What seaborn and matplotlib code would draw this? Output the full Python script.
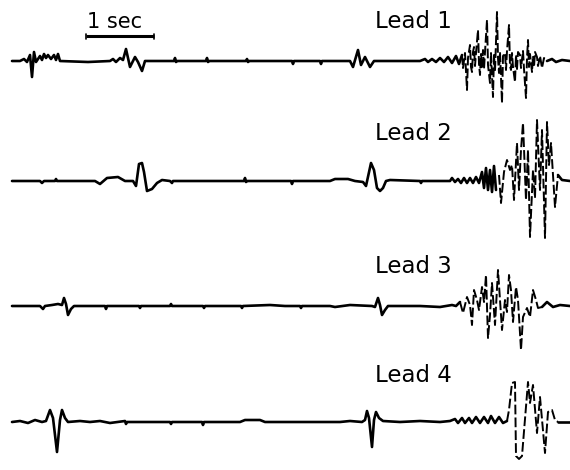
import numpy as np
import pandas as pd
import matplotlib
matplotlib.use("Agg")
import matplotlib.pyplot as plt
import seaborn as sns

# Recording sample rate (Hz); samples below are indices into each lead.
FS = 68

# (sample, amplitude) pairs for each lead
LEAD1 = [
    (0, 0), (8, 0), (12, 0.2), (15, -0.1), (18, 0.6), (20, -1.6), (22, 0.9), (24, -0.1),
    (28, 0.5), (30, 0.1), (32, 0.7), (34, 0.3), (36, 0.6), (39, 0.2), (42, 0.6), (44, 0.1),
    (46, 0.7), (48, 0), (76, -0.1), (98, 0), (101, 0.2), (104, -0.1), (108, 0.3), (111, 0.1),
    (114, 1.2), (118, -0.6), (123, 0.4), (126, -0.1), (130, -1.0), (133, 0),
    (162, 0), (163, 0.3), (164, -0.1), (165, 0), (194, 0), (195, 0.3), (196, -0.1), (197, 0),
    (234, 0), (235, 0.2), (236, -0.1), (237, 0), (258, 0), (280, 0), (281, -0.3), (282, 0),
    (308, 0), (309, -0.3), (310, 0), (338, 0), (341, -0.6), (346, 1.1), (349, -0.4),
    (353, 0.4), (358, -0.6), (362, 0), (408, 0), (413, 0.2), (416, -0.1), (420, 0.2),
    (424, -0.1), (428, 0.3), (432, -0.1), (436, 0.4), (440, -0.2), (444, 0.5), (447, -0.3),
    (450, 0.6), (451, -0.7), (453, 0.8), (455, -2.9), (456, 0.3), (458, 1.6), (459, -0.6),
    (460, -1.1), (461, 0.9), (462, 1.4), (463, -0.5), (464, 0.8), (466, 3.1), (467, -0.3),
    (468, -1.4), (469, 0.7), (470, -0.6), (471, 1.1), (472, -0.8), (473, 0.9), (475, 4.1),
    (476, -0.4), (478, -2.2), (479, 0.8), (481, -3.6), (482, 0.6), (483, -1.0), (485, 4.9),
    (486, 0.3), (487, -1.2), (488, 0.9), (490, -4.2), (491, 0.5), (493, 0.8), (494, -0.9),
    (495, 1.0), (497, 3.6), (498, -0.5), (499, -0.9), (500, 0.8), (501, -0.6), (503, -2.1),
    (504, 0.6), (505, -0.8), (506, 0.9), (508, 0.6), (509, -0.7), (511, 1.0), (512, -0.8),
    (514, -3.7), (515, 0.3), (516, 2.1), (517, -0.6), (518, 0.7), (520, -1.1), (521, 0.5),
    (522, -0.6), (523, 0.9), (525, 0.4), (526, -0.5), (528, 0.5), (530, -0.7), (532, 0.3),
    (535, 0), (540, 0.2), (544, -0.1), (550, 0.1), (558, 0),
]
LEAD2 = [
    (0, 0), (28, 0), (30, -0.2), (32, 0), (43, 0), (44, 0.2), (45, 0), (83, 0), (88, -0.3),
    (95, 0.3), (106, 0.4), (113, 0), (121, 0), (124, -0.5), (127, 1.7), (130, 1.8),
    (132, 0.9), (135, -1.0), (140, -0.8), (145, -0.2), (150, 0.1), (158, 0), (160, -0.2),
    (161, 0), (232, 0), (233, 0.3), (234, -0.1), (235, 0), (279, 0), (280, -0.3), (281, 0),
    (318, 0), (323, 0.2), (336, 0.2), (343, 0), (351, -0.1), (354, -0.5), (359, 1.8),
    (362, 1.1), (365, -0.7), (368, -1.0), (371, -0.7), (374, 0), (378, 0.1), (408, 0),
    (409, -0.2), (410, 0), (438, 0), (440, 0.3), (443, -0.1), (446, 0.2), (449, -0.2),
    (452, 0.3), (455, -0.2), (458, 0.3), (461, -0.2), (464, 0.4), (467, -0.2), (470, 0.9),
    (472, -0.7), (474, 1.3), (476, -0.9), (478, 1.1), (480, -1.1), (482, 1.5), (484, -0.9),
    (487, 0.6), (489, -2.2), (492, 0.9), (495, 2.1), (498, 1.1), (500, 1.6), (502, -1.9),
    (505, 3.8), (507, -0.9), (509, 3.1), (511, 5.8), (514, -1.9), (516, 3.1), (518, -5.6),
    (521, 1.1), (523, -1.7), (525, 6.1), (528, -0.9), (530, 5.1), (533, -5.7), (535, 5.9),
    (537, 1.6), (539, 3.8), (543, -2.6), (546, 0.6), (550, 0.1), (558, 0),
]
LEAD3 = [
    (0, 0), (28, 0), (31, -0.3), (33, 0), (40, 0.1), (46, 0.2), (50, 0.1), (52, 0.8),
    (54, 0.2), (56, -0.9), (59, -0.3), (62, 0), (93, 0), (94, -0.3), (95, 0), (127, 0),
    (128, -0.2), (129, 0), (158, 0), (159, 0.2), (160, 0), (191, 0), (192, -0.2), (193, 0),
    (229, 0), (230, -0.2), (231, 0), (258, 0.1), (273, 0), (288, 0), (289, -0.2), (290, 0),
    (318, 0), (323, -0.1), (338, 0.1), (360, 0), (363, -0.1), (366, 0.8), (368, 0.1),
    (370, -0.9), (373, -0.4), (376, 0), (408, 0), (428, -0.1), (440, 0.1), (444, 0),
    (448, 0.4), (451, -0.7), (455, 0.9), (458, 0.1), (460, -1.9), (462, 1.6), (465, 0.6),
    (467, -0.4), (470, 1.9), (472, 0.4), (474, 3.1), (476, -3.2), (478, -0.9), (480, 2.3),
    (483, -1.9), (486, 3.6), (490, -2.4), (493, 0.6), (495, -0.6), (497, 3.1), (499, 1.6),
    (501, -1.6), (504, 1.9), (506, 0.6), (509, -4.4), (511, -1.1), (515, -0.2), (518, -1.1),
    (521, 1.6), (524, 0.6), (526, -0.2), (530, -0.1), (535, 0.4), (541, -0.1), (548, 0.1),
    (558, 0),
]
LEAD4 = [
    (0, 0), (8, 0.1), (16, -0.1), (23, 0.2), (30, 0), (34, 0.1), (38, 1.2), (41, 0.4),
    (45, -3.0), (48, 0.2), (50, 1.2), (53, 0.4), (56, 0), (68, 0.1), (78, 0), (88, 0.1),
    (98, -0.1), (113, 0.1), (114, -0.2), (115, 0), (128, 0), (158, 0), (159, -0.2), (160, 0),
    (190, 0), (191, -0.3), (192, 0), (228, 0), (233, 0.2), (248, 0.2), (253, 0), (328, 0),
    (338, 0.1), (350, 0), (353, 0.2), (355, 1.1), (357, 0.4), (360, -2.5), (362, 0.2),
    (364, 1.0), (367, 0.4), (371, 0.1), (388, 0), (408, 0.1), (428, 0), (438, 0.1),
    (443, 0.3), (446, -0.1), (450, 0.4), (453, -0.1), (457, 0.4), (460, -0.1), (464, 0.5),
    (468, -0.1), (472, 0.5), (476, -0.1), (479, 0.6), (483, -0.1), (487, 0.5), (491, -0.1),
    (495, 0.1), (497, 1.2), (500, 3.9), (503, 4.0), (504, -3.4), (507, -3.7), (510, -3.4),
    (516, 4.0), (518, 1.9), (521, 3.7), (525, -1.1), (528, 2.5), (533, -3.1), (536, 1.0),
    (540, 1.2), (543, 0.2), (546, 0), (558, 0),
]

LEADS = [LEAD1, LEAD2, LEAD3, LEAD4]
LEAD_NAMES = ["Lead 1", "Lead 2", "Lead 3", "Lead 4"]
# sample ranges of the fibrillation burst in each lead
BURSTS = [(450, 535), (486, 546), (448, 530), (495, 546)]
SCALE_BAR_SEC = 1.0
SCALE_LABEL = "1 sec"

# layout (amplitude units)
BASELINES = [-6.1, -18.1, -30.6, -42.2]
LABEL_Y = [-2.8, -14.0, -27.3, -38.2]

sns.set_theme(style="white")
plt.rcParams["font.family"] = ["DejaVu Sans"]

fig = plt.figure(figsize=(5.7, 4.7), dpi=100)
ax = fig.add_axes([0, 0, 1, 1])
ax.set_xlim(-12 / FS, 558 / FS)
ax.set_ylim(-47, 0)
ax.axis("off")

for lead, base, (b0, b1), name, ly in zip(LEADS, BASELINES, BURSTS, LEAD_NAMES, LABEL_Y):
    df = pd.DataFrame(lead, columns=["sample", "amp"])
    df["t"] = df["sample"] / FS
    df["y"] = df["amp"] + base
    pre = df[df["sample"] <= b0]
    burst = df[(df["sample"] >= b0) & (df["sample"] <= b1)]
    post = df[df["sample"] >= b1]
    for part in (pre, post):
        sns.lineplot(data=part, x="t", y="y", sort=False, estimator=None,
                     color="black", linewidth=1.9, ax=ax)
    # fast deflections of the burst drawn as broken strokes
    sns.lineplot(data=burst, x="t", y="y", sort=False, estimator=None,
                 color="black", linewidth=1.4, linestyle=(0, (5, 1.6)), ax=ax)
    ax.text(363 / FS, ly, name, fontsize=16.5, color="black",
            ha="left", va="baseline")

# time scale bar
x0 = 74 / FS
ax.plot([x0, x0 + SCALE_BAR_SEC], [-3.6, -3.6], color="black", lw=2.2,
        solid_capstyle="butt")
for xe in (x0, x0 + SCALE_BAR_SEC):
    ax.plot([xe, xe], [-3.35, -3.9], color="black", lw=1.2)
ax.text(x0 + SCALE_BAR_SEC / 2 - 0.08, -2.75, SCALE_LABEL, fontsize=15,
        color="black", ha="center", va="baseline")

ax.set_xlabel("")
ax.set_ylabel("")
fig.savefig("out.png", dpi=100, facecolor="white")
